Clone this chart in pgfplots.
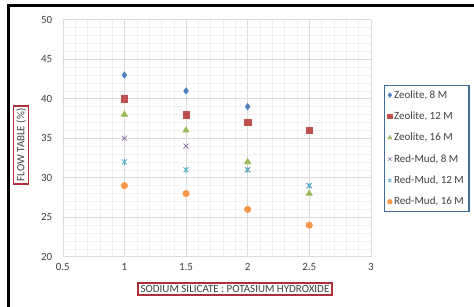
\documentclass[border=0pt]{standalone}
\usepackage{fontspec}
\setmainfont{Carlito}
\usepackage{pgfplots}
\pgfplotsset{compat=1.18}
\definecolor{zb}{HTML}{4F81BD}
\definecolor{zr}{HTML}{C0504D}
\definecolor{zg}{HTML}{9BBB59}
\definecolor{rp}{HTML}{8064A2}
\definecolor{ra}{HTML}{4BACC6}
\definecolor{ro}{HTML}{F79646}
\definecolor{boxred}{HTML}{B0303A}
\definecolor{legblue}{HTML}{3F6E9E}
\pgfdeclareplotmark{xstar}{%
  \pgfpathmoveto{\pgfqpoint{-0.7071\pgfplotmarksize}{-0.7071\pgfplotmarksize}}%
  \pgfpathlineto{\pgfqpoint{0.7071\pgfplotmarksize}{0.7071\pgfplotmarksize}}%
  \pgfpathmoveto{\pgfqpoint{-0.7071\pgfplotmarksize}{0.7071\pgfplotmarksize}}%
  \pgfpathlineto{\pgfqpoint{0.7071\pgfplotmarksize}{-0.7071\pgfplotmarksize}}%
  \pgfpathmoveto{\pgfqpoint{0pt}{-0.85\pgfplotmarksize}}%
  \pgfpathlineto{\pgfqpoint{0pt}{0.85\pgfplotmarksize}}%
  \pgfusepathqstroke}
\begin{document}
\begin{tikzpicture}[x=1pt,y=1pt]
\path[use as bounding box] (0,0) rectangle (474,-307);
\draw[line width=3pt,black] (8,-307) -- (8,-6) -- (474,-6);
\begin{axis}[
  at={(51,-25)}, anchor=north west,
  scale only axis, width=308pt, height=237pt,
  xmin=0.5, xmax=3, ymin=20, ymax=50,
  xtick={0.5,1,1.5,2,2.5,3},
  xticklabels={0.5,1,1.5,2,2.5,3},
  ytick={20,25,...,50},
  minor x tick num=4, minor y tick num=4,
  grid=both,
  major grid style={draw=black!14, line width=0.6pt},
  minor grid style={draw=black!6, line width=0.4pt},
  axis line style={draw=none},
  tick style={draw=none},
  /pgf/number format/assume math mode=true,
  ticklabel style={font=\fontsize{11}{12}\selectfont, text=black!75},
  xticklabel style={yshift=-3pt},
  yticklabel style={xshift=-7pt},
  clip=false,
  legend style={at={(1.042,0.726)}, anchor=north west,
     draw=legblue, line width=1.6pt, fill=white,
     font=\fontsize{11}{12}\selectfont, text=black!75,
     row sep=8.2pt, inner sep=3pt},
  legend cell align=left,
  legend image code/.code={\draw[#1, mark size=2.3pt, line width=0.6pt] plot coordinates {(0.12cm,0cm)};},
]
\addplot[only marks, mark=diamond*, mark size=3.3pt, color=zb] coordinates {(1,43) (1.5,41) (2,39)};
\addlegendentry{Zeolite, 8 M}
\addplot[only marks, mark=square*, mark size=3.2pt, color=zr] coordinates {(1,40) (1.5,38) (2,37) (2.5,36)};
\addlegendentry{Zeolite, 12 M}
\addplot[only marks, mark=triangle*, mark size=3.8pt, color=zg] coordinates {(1,38) (1.5,36) (2,32) (2.5,28)};
\addlegendentry{Zeolite, 16 M}
\addplot[only marks, mark=x, mark size=3.6pt, color=rp, line width=0.7pt] coordinates {(1,35) (1.5,34) (2,31) (2.5,29)};
\addlegendentry{Red-Mud, 8 M}
\addplot[only marks, mark=xstar, mark size=3.6pt, color=ra, line width=0.7pt] coordinates {(1,32) (1.5,31) (2,31) (2.5,29)};
\addlegendentry{Red-Mud, 12 M}
\addplot[only marks, mark=*, mark size=3.3pt, color=ro] coordinates {(1,29) (1.5,28) (2,26) (2.5,24)};
\addlegendentry{Red-Mud, 16 M}
\end{axis}
\node[draw=boxred, line width=1.5pt, rotate=90, inner sep=2.5pt, text=black!75,
      font=\fontsize{11}{12}\selectfont] at (21,-145) {FLOW TABLE (\%)};
\node[draw=boxred, line width=1.5pt, inner sep=2.5pt, text=black!75,
      font=\fontsize{11}{12}\selectfont] at (235,-289) {SODIUM SILICATE : POTASIUM HYDROXIDE};
\end{tikzpicture}
\end{document}
